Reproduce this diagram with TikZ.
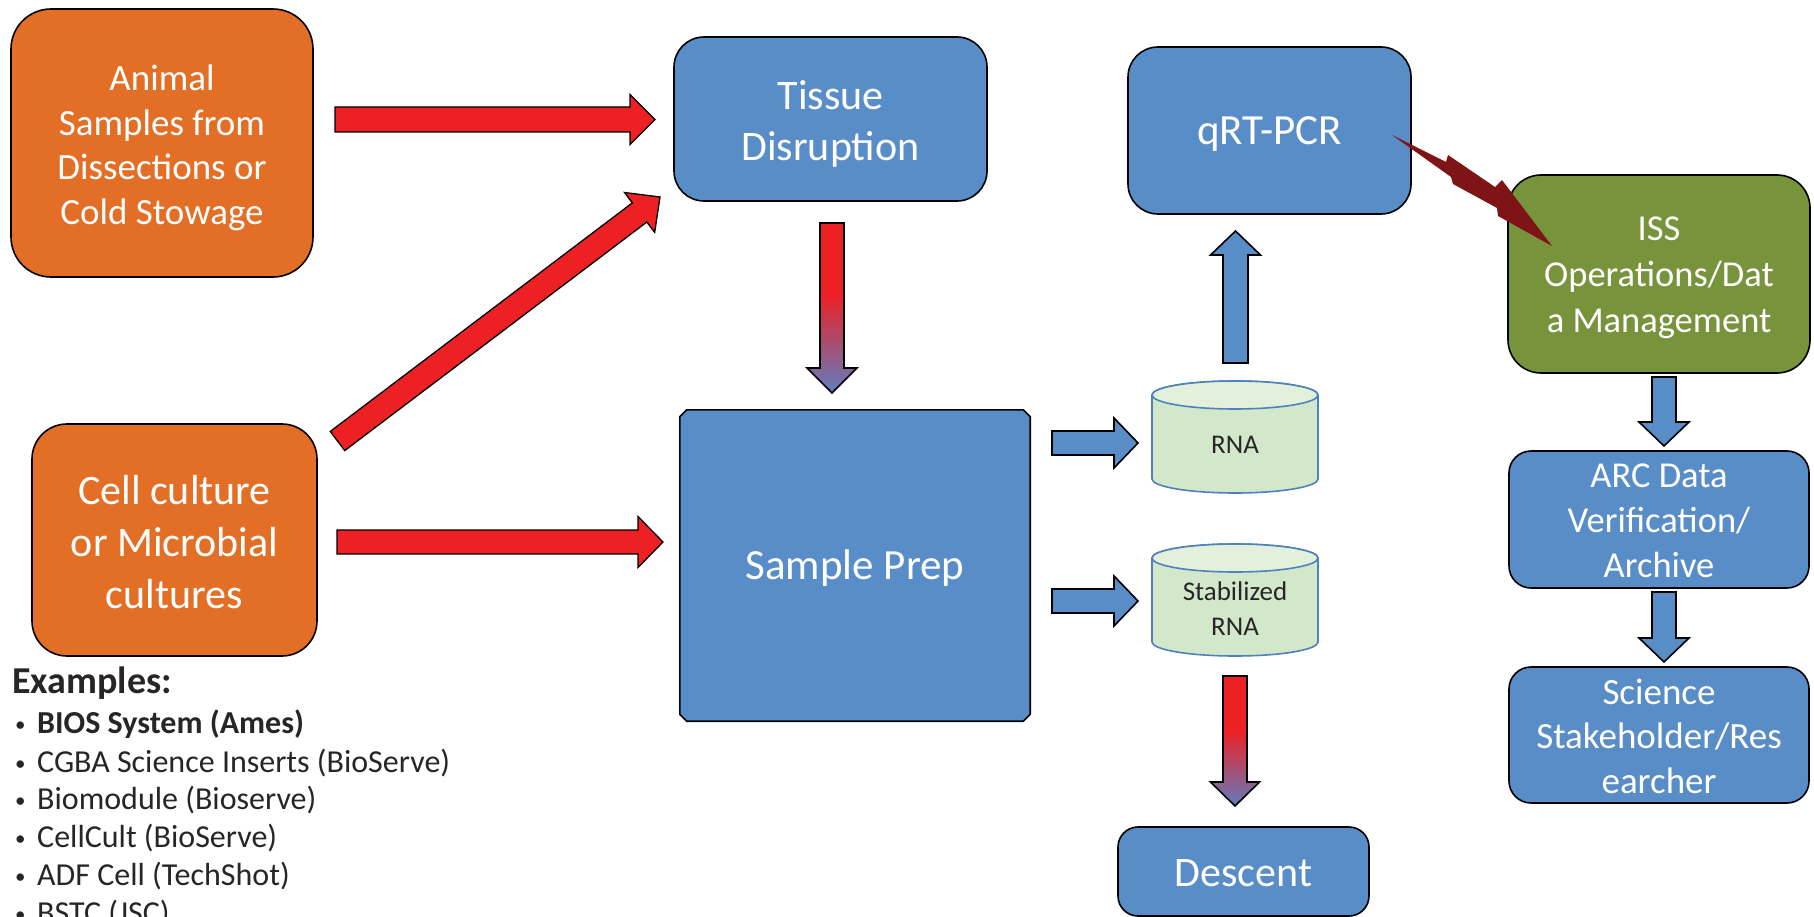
\documentclass[tikz,border=0pt]{standalone}
\usepackage{fontspec}
\setmainfont{Carlito}
\usetikzlibrary{calc,backgrounds}
\definecolor{orng}{RGB}{227,111,38}
\definecolor{blu}{RGB}{89,141,200}
\definecolor{grn}{RGB}{119,147,60}
\definecolor{redc}{RGB}{237,32,36}
\definecolor{gblue}{RGB}{92,128,196}
\definecolor{boltc}{RGB}{127,20,22}
\definecolor{cylbody}{RGB}{211,232,202}
\definecolor{cyltop}{RGB}{227,240,220}
\definecolor{cylline}{RGB}{79,129,189}
\definecolor{extxt}{RGB}{38,38,38}
\newcommand\apath[4]{($(#1)!#3!90:(#2)$) -- ($(bh)!#3!90:(#2)$) -- ($(bh)!#4!90:(#2)$) -- (#2) -- ($(bh)!#4!-90:(#2)$) -- ($(bh)!#3!-90:(#2)$) -- ($(#1)!#3!-90:(#2)$) -- cycle}
% #1 style, #2 from, #3 to, #4 half shaft, #5 half head, #6 head length
\newcommand\blockarrow[6]{%
  \coordinate (bh) at ($(#3)!#6!(#2)$);
  \path[#1] \apath{#2}{#3}{#4}{#5};}
\newcommand\gradarrow[5]{%
  \coordinate (bh) at ($(#2)!#5!(#1)$);
  \begin{scope}
    \clip \apath{#1}{#2}{#3}{#4};
    \fill[redc] ($(#1)+(-40,-3)$) rectangle ($(#1)!0.42!(#2)+(40,0)$);
    \shade[top color=redc, bottom color=gblue] ($(#1)!0.42!(#2)+(-40,0)$) rectangle ($(#2)+(40,3)$);
  \end{scope}
  \path[draw=black, line width=1.6pt] \apath{#1}{#2}{#3}{#4};}
\newcommand\bul{\makebox[22pt][l]{\raisebox{2pt}{\fontsize{21pt}{21pt}\selectfont •}}}
\begin{document}
\begin{tikzpicture}[x=1pt,y=-1pt,
  nbox/.style={draw=black, line width=1.6pt, inner sep=0pt},
  orangebox/.style={nbox, fill=orng},
  bluebox/.style={nbox, fill=blu},
  greenbox/.style={nbox, fill=grn},
  btxt/.style={text=white, align=center, inner sep=0pt},
  redarr/.style={fill=redc, draw=black, line width=1.3pt},
  bluarr/.style={fill=blu, draw=black, line width=1.6pt},
  cyl/.style={fill=cylbody, draw=cylline, line width=1.6pt},
  cyltxt/.style={text=extxt, align=center, inner sep=0pt, font=\fontsize{27pt}{35pt}\selectfont},
  exline/.style={text=extxt, anchor=base west, inner sep=0pt, font=\fontsize{32pt}{36pt}\selectfont}]
\useasboundingbox (0,0) rectangle (1814,917);
\begin{scope}[on background layer]
  \fill[white] (0,0) rectangle (1814,917);
\end{scope}

% boxes
\node[orangebox, minimum width=302pt, minimum height=268pt, rounded corners=40pt] (animal) at (162,143) {};
\node[btxt, font=\fontsize{37pt}{44.5pt}\selectfont] (animalT) at ([yshift=-5pt]animal.center) {Animal\\Samples from\\Dissections or\\Cold Stowage};
\node[orangebox, minimum width=285pt, minimum height=232pt, rounded corners=35pt] (cell) at (174.5,540) {};
\node[btxt, font=\fontsize{42pt}{52pt}\selectfont] (cellT) at ([yshift=-2pt]cell.center) {Cell culture\\or Microbial\\cultures};
\node[bluebox, minimum width=313pt, minimum height=164pt, rounded corners=30pt] (tissue) at (830.5,119) {};
\node[btxt, font=\fontsize{42pt}{51pt}\selectfont] (tissueT) at ([yshift=-5pt]tissue.center) {Tissue\\Disruption};
\node[bluebox, minimum width=283pt, minimum height=167pt, rounded corners=30pt] (qrt) at (1269.5,130.5) {};
\node[btxt, font=\fontsize{43pt}{50pt}\selectfont] (qrtT) at ([yshift=-4pt]qrt.center) {qRT-PCR};
\node[minimum width=350pt, minimum height=311pt, inner sep=0pt] (sp) at (855,565.5) {};
\begin{scope}[on background layer]
  \draw[fill=blu, line width=1.6pt] ([xshift=7pt]sp.north west) -- ([xshift=-7pt]sp.north east) -- ([yshift=-7pt]sp.north east) -- ([yshift=7pt]sp.south east) -- ([xshift=-7pt]sp.south east) -- ([xshift=7pt]sp.south west) -- ([yshift=7pt]sp.south west) -- ([yshift=-7pt]sp.north west) -- cycle;
\end{scope}
\node[btxt, font=\fontsize{43pt}{50pt}\selectfont] (spT) at ([yshift=-3pt]sp.center) {Sample Prep};
\node[bluebox, minimum width=251pt, minimum height=89pt, rounded corners=20pt] (descent) at (1243.5,871.5) {};
\node[btxt, font=\fontsize{42pt}{50pt}\selectfont] (descentT) at ([yshift=-2pt]descent.center) {Descent};
\node[greenbox, minimum width=302pt, minimum height=198pt, rounded corners=33pt] (iss) at (1659,274) {};
\node[btxt, font=\fontsize{36.5pt}{46pt}\selectfont] (issT) at ([yshift=-4pt]iss.center) {ISS\\Operations/Dat\\a Management};
\node[bluebox, minimum width=300pt, minimum height=137pt, rounded corners=22pt] (arc) at (1659,519.5) {};
\node[btxt, font=\fontsize{36.5pt}{45pt}\selectfont] (arcT) at ([yshift=-1pt]arc.center) {ARC Data\\Verification/\\Archive};
\node[bluebox, minimum width=300pt, minimum height=136pt, rounded corners=22pt] (sci) at (1659,735) {};
\node[btxt, font=\fontsize{37pt}{44.5pt}\selectfont] (sciT) at ([yshift=-1pt]sci.center) {Science\\Stakeholder/Res\\earcher};

% cylinders
\path[cyl] (1152,395) -- (1152,479) arc(180:360:83pt and 14pt) -- (1318,395) arc(0:180:83pt and 14pt) -- cycle;
\draw[cyl, fill=cyltop] (1235,395) ellipse (83pt and 14pt);
\node[cyltxt] (rna) at (1235,445) {RNA};
\path[cyl] (1152,558) -- (1152,642) arc(180:360:83pt and 14pt) -- (1318,558) arc(0:180:83pt and 14pt) -- cycle;
\draw[cyl, fill=cyltop] (1235,558) ellipse (83pt and 14pt);
\node[cyltxt] (srna) at (1235,609) {Stabilized\\RNA};

% arrow end points
\coordinate (a1s) at (335,119.5);  \coordinate (a1e) at (655,119.5);
\coordinate (a2s) at (337.5,441);  \coordinate (a2e) at (660,197);
\coordinate (a3s) at (337,542);    \coordinate (a3e) at (663,542);
\coordinate (g1s) at (832,223);    \coordinate (g1e) at (832,393);
\coordinate (g2s) at (1235,676);   \coordinate (g2e) at (1235,806);
\coordinate (b1s) at (1052,443);   \coordinate (b1e) at (1138,443);
\coordinate (b2s) at (1052,601);   \coordinate (b2e) at (1138,601);
\coordinate (b3s) at (1235.5,363); \coordinate (b3e) at (1235.5,231);
\coordinate (b4s) at (1664,377);   \coordinate (b4e) at (1664,446);
\coordinate (b5s) at (1664,592);   \coordinate (b5e) at (1664,662);

\blockarrow{redarr}{a1s}{a1e}{12.5pt}{25pt}{25pt}
\blockarrow{redarr}{a2s}{a2e}{12pt}{25pt}{25.6pt}
\blockarrow{redarr}{a3s}{a3e}{12pt}{25.5pt}{25pt}
\gradarrow{g1s}{g1e}{12pt}{25pt}{25pt}
\gradarrow{g2s}{g2e}{12pt}{24.5pt}{24pt}
\blockarrow{bluarr}{b1s}{b1e}{12pt}{25pt}{24pt}
\blockarrow{bluarr}{b2s}{b2e}{12pt}{25pt}{24pt}
\blockarrow{bluarr}{b3s}{b3e}{12.5pt}{25pt}{24pt}
\blockarrow{bluarr}{b4s}{b4e}{12pt}{25pt}{24pt}
\blockarrow{bluarr}{b5s}{b5e}{12pt}{25pt}{24pt}

% lightning bolt from qRT-PCR to ISS
\coordinate (boltS) at (1392,135);
\coordinate (boltE) at (1552,246);
\fill[boltc] (boltS) -- (1446,162) -- (1448,155) -- (1495,187) -- (1502,180) -- (boltE) -- (1498,216) -- (1497,208) -- (1453,184) -- (1451,177) -- cycle;

% examples
\node[text=extxt, anchor=base west, inner sep=0pt, font=\bfseries\fontsize{38pt}{40pt}\selectfont] (exh) at (12,693) {Examples:};
\node[exline] (ex1) at (15,733) {\bul\textbf{BIOS System (Ames)}};
\node[exline] (ex2) at (15,772) {\bul CGBA Science Inserts (BioServe)};
\node[exline] (ex3) at (15,809) {\bul Biomodule (Bioserve)};
\node[exline] (ex4) at (15,847) {\bul CellCult (BioServe)};
\node[exline] (ex5) at (15,885) {\bul ADF Cell (TechShot)};
\node[exline] (ex6) at (15,923) {\bul BSTC (JSC)};
\end{tikzpicture}
\end{document}
